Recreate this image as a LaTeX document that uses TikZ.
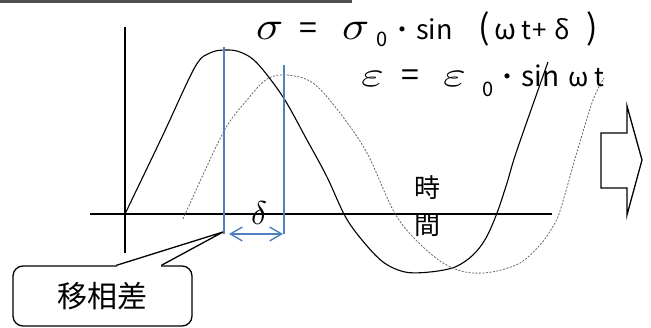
\documentclass[tikz,border=0pt]{standalone}
\usepackage{fontspec}
\setmainfont{Noto Sans CJK JP}
\newfontfamily\grk{Latin Modern Math}
\usetikzlibrary{arrows.meta,calc}
\definecolor{blueline}{RGB}{79,129,189}
\definecolor{bargray}{RGB}{80,80,80}
\tikzset{
  txt/.style={inner sep=0pt, anchor=base west},
  axisline/.style={line width=1.6pt, black},
  curveA/.style={line width=1.1pt, black},
  curveB/.style={line width=0.8pt, black!60, dash pattern=on 2pt off 1.5pt},
  bluev/.style={line width=1.6pt, blueline},
  outline/.style={line width=1.3pt, black}
}
\newcommand{\Gsig}{\fontsize{40}{42}\selectfont\grk\scalebox{1.12}[1]{𝜎}}
\newcommand{\Geps}{\fontsize{35}{40}\selectfont\grk\scalebox{1.4}[1]{𝜀}}
\begin{document}
\begin{tikzpicture}[x=1pt,y=-1pt]
\useasboundingbox (0,0) rectangle (651,328);
% top bar (cut-off shape)
\coordinate (bar1) at (0,0);
\coordinate (bar2) at (352,3);
\fill[bargray] (bar1) rectangle (bar2);
% axes
\coordinate (yt) at (125,27);
\coordinate (yb) at (125,253);
\coordinate (xl) at (90,214);
\coordinate (xr) at (552,214);
\draw[axisline] (yt) -- (yb);
\draw[axisline] (xl) -- (xr);
% stress curve (solid)
\draw[curveA] plot[smooth, tension=0.55] coordinates {
 (125,214) (162,137) (195,67) (210,53) (225,50) (240,52) (257,63) (283,97)
 (307,140) (327,177) (345,216) (362,240) (383,262) (405,272) (430,272)
 (455,267) (473,255) (486,238) (497,213) (507,183) (517,150) (548,62)};
% strain curve (dotted)
\draw[curveB] plot[smooth, tension=0.55] coordinates {
 (183,219) (223,133) (247,100) (267,79) (287,75) (313,83) (340,113)
 (367,153) (393,210) (413,237) (440,261) (465,272) (492,272) (520,263)
 (540,245) (552,228) (560,211) (577,152) (593,100) (604,78)};
% blue markers
\coordinate (b1t) at (224,47);
\coordinate (b1b) at (224,234);
\coordinate (b2t) at (284,65);
\coordinate (b2b) at (284,234);
\draw[bluev] (b1t) -- (b1b);
\draw[bluev] (b2t) -- (b2b);
\coordinate (al) at (229,234);
\coordinate (ar) at (283,234);
\draw[line width=1.4pt, blueline, {Straight Barb[length=12pt,width=14pt]}-{Straight Barb[length=12pt,width=14pt]}] (al) -- (ar);
\node[inner sep=0pt, font=\fontsize{33}{35}\selectfont\grk] (dl) at (259,213) {𝛿};
% time label
\node[inner sep=0pt, font=\fontsize{26}{28}\selectfont] (t1) at (427,188) {時};
\node[inner sep=0pt, font=\fontsize{26}{28}\selectfont] (t2) at (427,225) {間};
% callout
\node[draw, outline, rounded corners=10pt, minimum width=179pt, minimum height=60pt,
      inner sep=0pt, font=\fontsize{30}{32}\selectfont] (co) at (102.5,296) {移相差};
\coordinate (tip) at (223,232);
\coordinate (p1) at ($(co.north west)+(104,0)$);
\coordinate (p2) at ($(co.north west)+(149,0)$);
\fill[white] ($(p1)+(0.8,-1.5)$) rectangle ($(p2)+(-0.8,1.5)$);
\draw[outline, line join=miter] (p1) -- (tip) -- (p2);
% block arrow
\coordinate (ba1) at (601,133);
\coordinate (ba2) at (627,133);
\coordinate (ba3) at (627,106);
\coordinate (ba4) at (642,160);
\coordinate (ba5) at (627,215);
\coordinate (ba6) at (627,188);
\coordinate (ba7) at (601,188);
\draw[outline] (ba1) -- (ba2) -- (ba3) -- (ba4) -- (ba5) -- (ba6) -- (ba7) -- cycle;
% formula line 1
\node[txt] (s1) at (256,40) {\Gsig};
\node[txt, font=\fontsize{32}{34}\selectfont] (e1) at (299,40) {=};
\node[txt] (s2) at (342,40) {\Gsig};
\node[txt, font=\fontsize{20}{22}\selectfont] (z1) at (376,47) {0};
\node[inner sep=0pt, font=\fontsize{24}{26}\selectfont] (d1) at (402,33) {・};
\node[txt, font=\fontsize{27}{29}\selectfont] (sin1) at (416,40) {sin};
\node[txt, font=\fontsize{34}{36}\selectfont] (pl) at (478,40) {(};
\node[txt, font=\fontsize{28}{30}\selectfont] (w1) at (494,40) {ω};
\node[txt, font=\fontsize{26}{28}\selectfont] (tt1) at (521,40) {t};
\node[txt, font=\fontsize{26}{28}\selectfont] (pp) at (532,40) {+};
\node[txt, font=\fontsize{26}{28}\selectfont] (dd) at (554,40) {δ};
\node[txt, font=\fontsize{34}{36}\selectfont] (pr) at (586,40) {)};
% formula line 2
\node[txt] (ep1) at (361,87) {\Geps};
\node[txt, font=\fontsize{32}{34}\selectfont] (e2) at (401,87) {=};
\node[txt] (ep2) at (443,87) {\Geps};
\node[txt, font=\fontsize{20}{22}\selectfont] (z2) at (482,97) {0};
\node[inner sep=0pt, font=\fontsize{24}{26}\selectfont] (d2) at (507,80) {・};
\node[txt, font=\fontsize{28}{30}\selectfont] (sin2) at (521,87) {sin};
\node[txt, font=\fontsize{26}{28}\selectfont] (w2) at (568,87) {ω};
\node[txt, font=\fontsize{26}{28}\selectfont] (tt2) at (594,87) {t};
\end{tikzpicture}
\end{document}
